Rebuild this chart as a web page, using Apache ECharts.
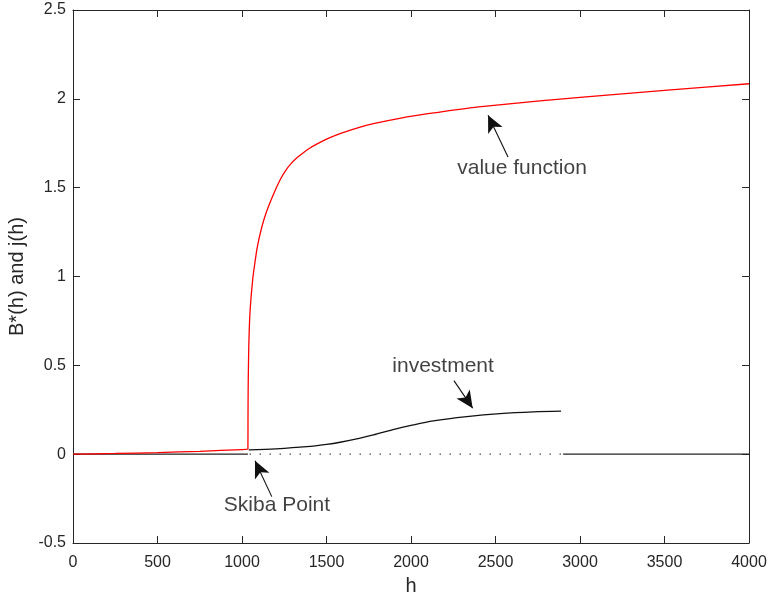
<!DOCTYPE html>
<html>
<head>
<meta charset="utf-8">
<script src="https://cdn.jsdelivr.net/npm/echarts@6/dist/echarts.min.js"></script>
<style>
  html, body { margin: 0; padding: 0; background: #fff; }
  #chart { width: 768px; height: 599px; }
</style>
</head>
<body>
<div id="chart"></div>
<script>
// value function B*(h)
const valueFn = [
  [0, 0], [250, 0.004], [500, 0.009], [750, 0.016], [1000, 0.026], [1035, 0.029],
  [1035.5, 0.2], [1036, 0.3], [1037, 0.42], [1040, 0.6], [1047, 0.793], [1063, 0.98],
  [1076, 1.075], [1091, 1.168], [1115, 1.27], [1142, 1.356], [1185, 1.46], [1225, 1.543],
  [1255, 1.592], [1290, 1.635], [1330, 1.672], [1363, 1.697], [1400, 1.722],
  [1442, 1.745], [1510, 1.777], [1580, 1.804], [1670, 1.833], [1777, 1.86],
  [1940, 1.892], [2112, 1.918], [2400, 1.955], [2763, 1.988], [3000, 2.008],
  [3500, 2.048], [4000, 2.085]
];

// investment j(h)
const investLow = [[0, 0], [1035, 0]];
const investCurve = [
  [1040, 0.024], [1200, 0.03], [1383, 0.042], [1500, 0.055], [1580, 0.067],
  [1700, 0.09], [1777, 0.108], [1900, 0.14], [2000, 0.162], [2132, 0.187],
  [2330, 0.211], [2527, 0.228], [2724, 0.238], [2888, 0.242]
];
const investGap = [[1045, 0], [2895, 0]];
const investHigh = [[2900, 0], [4000, 0]];

// annotations: [text, textPos, arrowTail, arrowTip]
const notes = [
  ['value function', [2657, 1.61], [2574, 1.672], [2456, 1.908]],
  ['investment', [2190, 0.495], [2254, 0.414], [2365, 0.259]],
  ['Skiba Point', [1207, -0.29], [1176, -0.239], [1077, -0.037]]
];

const xTicks = { min: 0, max: 4000, interval: 500 };
const yTicks = { min: -0.5, max: 2.5, interval: 0.5 };

const ink = '#262626';
const font = 'Liberation Sans, Arial, Helvetica, sans-serif';

const chart = echarts.init(document.getElementById('chart'));

const boxAxis = {
  axisLine: { show: true, onZero: false, lineStyle: { color: ink, width: 1 } },
  axisTick: { show: true, inside: true, length: 7, lineStyle: { color: ink } },
  splitLine: { show: false }
};

chart.setOption({
  animation: false,
  grid: { left: 73, right: 19, top: 10, bottom: 56, containLabel: false, outerBoundsMode: 'none' },
  xAxis: [
    Object.assign({
      type: 'value', position: 'bottom', ...xTicks,
      name: 'h', nameLocation: 'middle', nameGap: 33,
      nameTextStyle: { color: ink, fontSize: 20, fontFamily: font },
      axisLabel: { color: ink, fontSize: 16, fontFamily: font, margin: 12, formatter: v => String(v) }
    }, boxAxis),
    Object.assign({
      type: 'value', position: 'top', ...xTicks,
      axisLabel: { show: false }
    }, boxAxis)
  ],
  yAxis: [
    Object.assign({
      type: 'value', position: 'left', ...yTicks,
      name: 'B*(h) and j(h)', nameLocation: 'middle', nameGap: 42,
      nameTextStyle: { color: ink, fontSize: 20, fontFamily: font },
      axisLabel: { color: ink, fontSize: 16, fontFamily: font, margin: 7 }
    }, boxAxis),
    Object.assign({
      type: 'value', position: 'right', ...yTicks,
      axisLabel: { show: false }
    }, boxAxis)
  ],
  series: [
    {
      name: 'investLow', type: 'line', data: investLow, showSymbol: false,
      lineStyle: { color: '#222', width: 1.2 }
    },
    {
      name: 'investGap', type: 'line', data: investGap, showSymbol: false,
      lineStyle: { color: '#222', width: 1.2, type: [1.2, 8.8] }
    },
    {
      name: 'investHigh', type: 'line', data: investHigh, showSymbol: false,
      lineStyle: { color: '#222', width: 1.2 }
    },
    {
      name: 'investment', type: 'line', data: investCurve, showSymbol: false,
      smooth: 0.3,
      lineStyle: { color: '#111', width: 1.3 }
    },
    {
      name: 'value function', type: 'line', data: valueFn, showSymbol: false,
      smooth: 0.15,
      lineStyle: { color: '#ff0000', width: 1.3 }
    },
    {
      name: 'notes', type: 'scatter', symbolSize: 0, silent: true,
      data: notes.map(n => ({ value: n[1], name: n[0] })),
      label: {
        show: true, position: 'inside', formatter: '{b}',
        color: '#111', fontSize: 21, fontFamily: font
      },
      markLine: {
        silent: true,
        symbol: ['none', 'arrow'],
        symbolSize: [12, 17],
        label: { show: false },
        lineStyle: { color: '#111', width: 1.1, type: 'solid' },
        data: notes.map(n => [{ coord: n[2] }, { coord: n[3] }])
      }
    }
  ]
});
</script>
</body>
</html>
